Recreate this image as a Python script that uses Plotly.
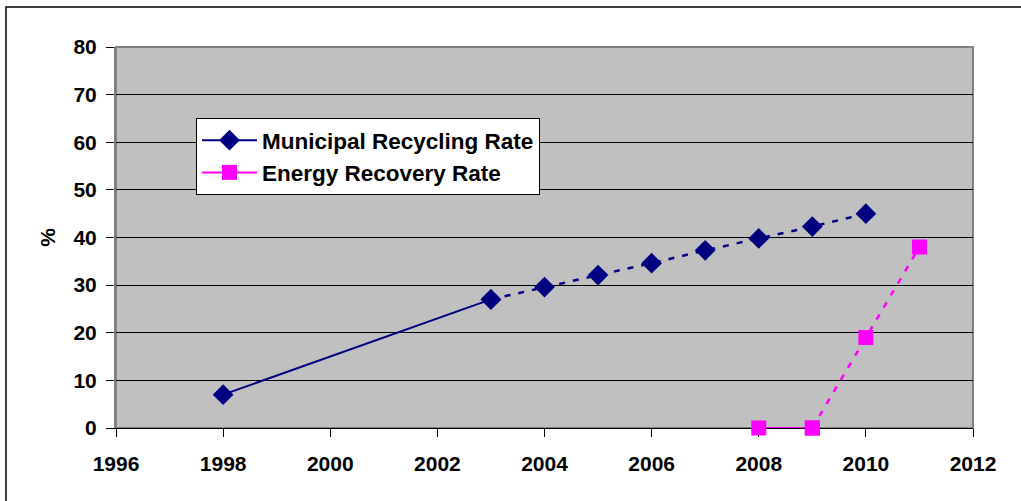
import plotly.graph_objects as go

mun_years = [1998, 2003, 2004, 2005, 2006, 2007, 2008, 2009, 2010]
mun_values = [7, 27, 29.6, 32.1, 34.6, 37.3, 39.8, 42.3, 45]
mun_solid_n = 2  # first two points joined by a solid line

en_years = [2008, 2009, 2010, 2011]
en_values = [0, 0, 19, 38]
en_solid_n = 2

x_ticks = [1996, 1998, 2000, 2002, 2004, 2006, 2008, 2010, 2012]
y_ticks = [0, 10, 20, 30, 40, 50, 60, 70, 80]

NAVY = "#000080"
MAG = "#FF00FF"
FAM = "Liberation Sans, Arial, sans-serif"
FONT = dict(family=FAM, size=21, color="black")

fig = go.Figure()

# solid segments (legend)
fig.add_trace(go.Scatter(
    x=mun_years[:mun_solid_n], y=mun_values[:mun_solid_n], mode="lines+markers",
    name="<b>Municipal Recycling Rate</b>",
    line=dict(color=NAVY, width=2),
    marker=dict(symbol="diamond", size=16, color=NAVY),
    cliponaxis=False,
))
fig.add_trace(go.Scatter(
    x=en_years[:en_solid_n], y=en_values[:en_solid_n], mode="lines+markers",
    name="<b>Energy Recovery Rate</b>",
    line=dict(color=MAG, width=2),
    marker=dict(symbol="square", size=15, color=MAG),
    cliponaxis=False,
))
# dotted segments
fig.add_trace(go.Scatter(
    x=mun_years[mun_solid_n - 1:], y=mun_values[mun_solid_n - 1:], mode="lines+markers",
    showlegend=False,
    line=dict(color=NAVY, width=2.5, dash="6px,8px"),
    marker=dict(symbol="diamond", size=16, color=NAVY),
    cliponaxis=False,
))
fig.add_trace(go.Scatter(
    x=en_years[en_solid_n - 1:], y=en_values[en_solid_n - 1:], mode="lines+markers",
    showlegend=False,
    line=dict(color=MAG, width=2.5, dash="6px,8px"),
    marker=dict(symbol="square", size=15, color=MAG),
    cliponaxis=False,
))

L, R, T, B = 116, 48, 47, 73
W, H = 1021, 501
pw, ph = W - L - R, H - T - B

def px_x(p):
    return (p - L) / pw

def px_y(p):
    return (H - B - p) / ph

fig.update_layout(
    width=W, height=H,
    margin=dict(l=L, r=R, t=T, b=B, pad=0),
    paper_bgcolor="white",
    plot_bgcolor="#C0C0C0",
    font=FONT,
    showlegend=True,
    legend=dict(
        x=px_x(196), y=px_y(118), xanchor="left", yanchor="top",
        bgcolor="white", bordercolor="black", borderwidth=1,
        font=dict(family=FAM, size=22.5, color="black"),
        itemwidth=55, tracegroupgap=0,
    ),
    xaxis=dict(
        range=[1996, 2012], tickvals=x_ticks, ticktext=[f"<b>{v}</b>" for v in x_ticks],
        showgrid=False, zeroline=False,
        ticks="outside", ticklen=8, tickcolor="black", tickwidth=1,
        ticklabelstandoff=9,
        showline=True, linecolor="black", linewidth=1,
        layer="below traces",
        tickfont=dict(family=FAM, size=21, color="black"),
    ),
    yaxis=dict(
        range=[0, 80], tickvals=y_ticks, ticktext=[f"<b>{v}</b>" for v in y_ticks],
        showgrid=True, gridcolor="black", gridwidth=1, zeroline=False,
        ticks="outside", ticklen=8, tickcolor="black", tickwidth=1,
        ticklabelstandoff=5,
        showline=True, linecolor="#808080", linewidth=2,
        layer="below traces",
        tickfont=dict(family=FAM, size=21, color="black"),
        title=dict(text="<b>%</b>", standoff=12, font=dict(family=FAM, size=21)),
    ),
    shapes=[
        # outer chart border
        dict(type="rect", xref="paper", yref="paper",
             x0=px_x(6), x1=px_x(1040), y0=px_y(520), y1=px_y(7),
             line=dict(color="black", width=1.5), layer="below"),
        # plot area border
        dict(type="rect", xref="paper", yref="paper",
             x0=0, x1=1, y0=0, y1=1,
             line=dict(color="#808080", width=2), layer="below"),
    ],
)

fig.write_html("out.html")
